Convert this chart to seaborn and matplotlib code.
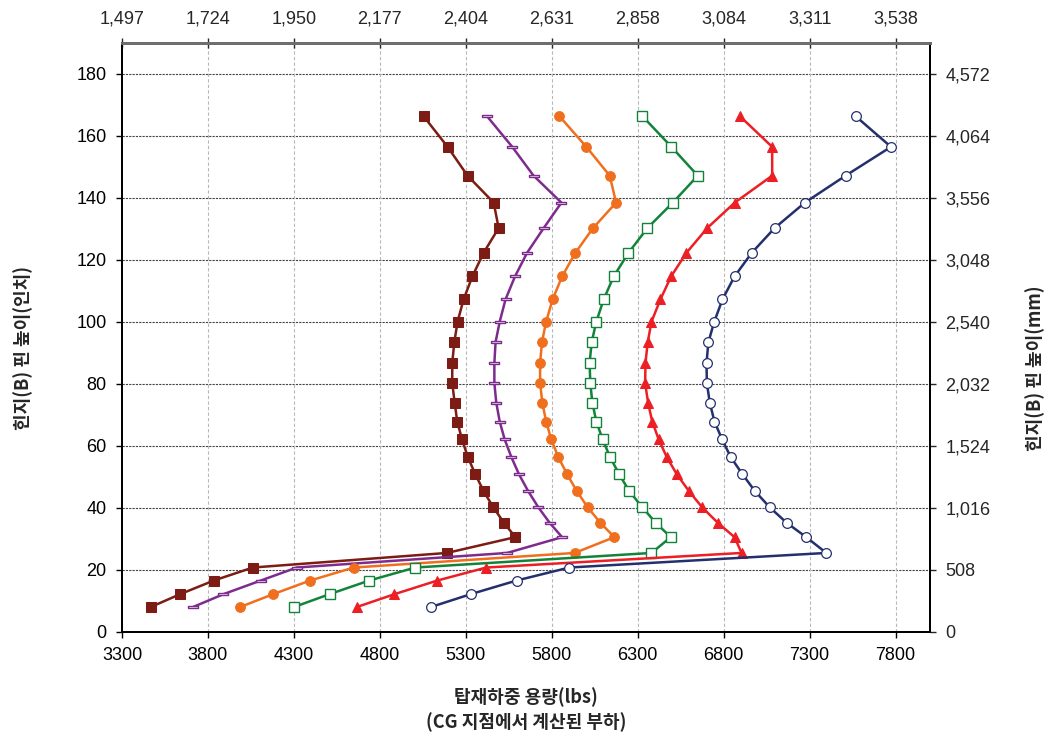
import pandas as pd
import matplotlib
matplotlib.use("Agg")
import matplotlib.pyplot as plt
import seaborn as sns

# -------------------------------
# Data
# -------------------------------
pin_height = [8.1, 12.2, 16.6, 20.8, 25.5, 30.6, 35.2, 40.2, 45.5, 50.9, 56.4, 62.1, 67.9,
              74.0, 80.3, 86.8, 93.5, 100.1, 107.3, 114.7, 122.3, 130.3, 138.5, 147.2, 156.5, 166.4]

load_brown = [3469, 3638, 3834, 4061, 5190, 5588, 5522, 5460, 5403, 5355, 5312, 5278, 5250,
              5235, 5221, 5221, 5233, 5252, 5287, 5338, 5403, 5491, 5462, 5310, 5194, 5054]
load_purple = [3715, 3890, 4107, 4317, 5540, 5860, 5788, 5722, 5662, 5609, 5565, 5526, 5497,
               5477, 5466, 5466, 5473, 5497, 5531, 5586, 5656, 5753, 5856, 5694, 5570, 5423]
load_orange = [3989, 4179, 4394, 4649, 5933, 6164, 6083, 6009, 5945, 5889, 5838, 5797, 5767,
               5745, 5732, 5732, 5743, 5767, 5805, 5860, 5937, 6040, 6174, 6137, 6001, 5844]
load_green = [4303, 4507, 4738, 5007, 6380, 6492, 6405, 6327, 6250, 6192, 6139, 6096, 6059,
              6036, 6024, 6020, 6032, 6059, 6102, 6160, 6246, 6356, 6504, 6649, 6496, 6327]
load_red = [4668, 4885, 5134, 5419, 6904, 6863, 6766, 6675, 6597, 6527, 6469, 6422, 6384,
            6360, 6343, 6345, 6358, 6380, 6432, 6494, 6583, 6704, 6864, 7082, 7082, 6894]
load_navy = [5099, 5328, 5595, 5902, 7397, 7280, 7167, 7068, 6981, 6909, 6841, 6791, 6746,
             6719, 6702, 6700, 6711, 6745, 6793, 6863, 6963, 7096, 7272, 7509, 7773, 7567]

lbs_ticks = [3300, 3800, 4300, 4800, 5300, 5800, 6300, 6800, 7300, 7800]
kg_labels = ["1,497", "1,724", "1,950", "2,177", "2,404", "2,631", "2,858", "3,084", "3,311", "3,538"]
inch_ticks = [0, 20, 40, 60, 80, 100, 120, 140, 160, 180]
mm_labels = ["0", "508", "1,016", "1,524", "2,032", "2,540", "3,048", "3,556", "4,064", "4,572"]

series = {
    "brown": load_brown,
    "purple": load_purple,
    "orange": load_orange,
    "green": load_green,
    "red": load_red,
    "navy": load_navy,
}

rows = []
for name, loads in series.items():
    for h, l in zip(pin_height, loads):
        rows.append({"series": name, "height": h, "load": l})
df = pd.DataFrame(rows)

# -------------------------------
# Styles
# -------------------------------
dash_marker = [(-1, -0.3), (1, -0.3), (1, 0.3), (-1, 0.3), (-1, -0.3)]
styles = {
    "brown": dict(color="#7c1c14", marker="s", markersize=7, markerfacecolor="#7c1c14", markeredgecolor="#7c1c14"),
    "purple": dict(color="#7e2b8e", marker=dash_marker, markersize=6.5, markerfacecolor="white", markeredgecolor="#7e2b8e", markeredgewidth=1.0),
    "orange": dict(color="#ef6f1f", marker="o", markersize=7, markerfacecolor="#ef6f1f", markeredgecolor="#ef6f1f"),
    "green": dict(color="#12843a", marker="s", markersize=6.5, markerfacecolor="white", markeredgecolor="#12843a", markeredgewidth=1.0),
    "red": dict(color="#ec1f25", marker="^", markersize=7.5, markerfacecolor="#ec1f25", markeredgecolor="#ec1f25"),
    "navy": dict(color="#24306e", marker="o", markersize=7, markerfacecolor="white", markeredgecolor="#24306e", markeredgewidth=0.9),
}

sns.set_style("ticks")
plt.rcParams["font.family"] = ["Liberation Sans", "Noto Sans CJK KR", "DejaVu Sans"]

fig = plt.figure(figsize=(10.6, 7.36), dpi=100)
ax = fig.add_axes([122 / 1060, 104 / 736, 808 / 1060, 589 / 736])

for name in series:
    sns.lineplot(data=df[df["series"] == name], x="load", y="height",
                 sort=False, estimator=None, linewidth=1.8, legend=False,
                 ax=ax, **styles[name])

ax.set_xlim(3300, 8000)
ax.set_ylim(0, 190)
ax.set_xticks(lbs_ticks)
ax.set_xticklabels([str(t) for t in lbs_ticks])
ax.set_yticks(inch_ticks)
ax.set_xlabel("")
ax.set_ylabel("")

ax.grid(False)
for t in inch_ticks[1:]:
    ax.axhline(t, color="#444444", linestyle=(0, (2, 1)), linewidth=0.8, zorder=0)
for t in lbs_ticks[1:]:
    ax.axvline(t, color="#b8b8b8", linestyle=(0, (3, 2)), linewidth=0.8, zorder=0)

ax.tick_params(axis="both", direction="out", length=4, width=1, labelsize=13, pad=7, colors="black")

# top axis (kg)
ax_top = ax.twiny()
ax_top.set_xlim(ax.get_xlim())
ax_top.set_xticks(lbs_ticks)
ax_top.set_xticklabels(kg_labels)
ax_top.tick_params(axis="x", direction="inout", length=7, width=1, labelsize=13, pad=8)

# right axis (mm)
ax_right = ax.twinx()
ax_right.set_ylim(ax.get_ylim())
ax_right.set_yticks(inch_ticks)
ax_right.set_yticklabels(mm_labels)
ax_right.tick_params(axis="y", direction="out", length=4, width=1, labelsize=13, pad=7)

for a in (ax, ax_top, ax_right):
    for side in ("left", "bottom", "right"):
        a.spines[side].set_color("black")
        a.spines[side].set_linewidth(1.3)
    a.spines["top"].set_color("#6e6e6e")
    a.spines["top"].set_linewidth(2.0)

kfont = ["Noto Sans CJK KR", "DejaVu Sans"]
fig.text(23 / 1060, 1 - 348 / 736, "힌지(B) 핀 높이(인치)", rotation=90, ha="center", va="center",
         fontsize=13, fontweight="bold", family=kfont)
fig.text(1035 / 1060, 1 - 368 / 736, "힌지(B) 핀 높이(mm)", rotation=90, ha="center", va="center",
         fontsize=13, fontweight="bold", family=kfont)
fig.text(526 / 1060, 1 - 697 / 736, "탑재하중 용량(lbs)", ha="center", va="center",
         fontsize=13, fontweight="bold", family=kfont)
fig.text(526 / 1060, 1 - 722 / 736, "(CG 지점에서 계산된 부하)", ha="center", va="center",
         fontsize=13, fontweight="bold", family=kfont)

fig.savefig("out.png", dpi=100)
